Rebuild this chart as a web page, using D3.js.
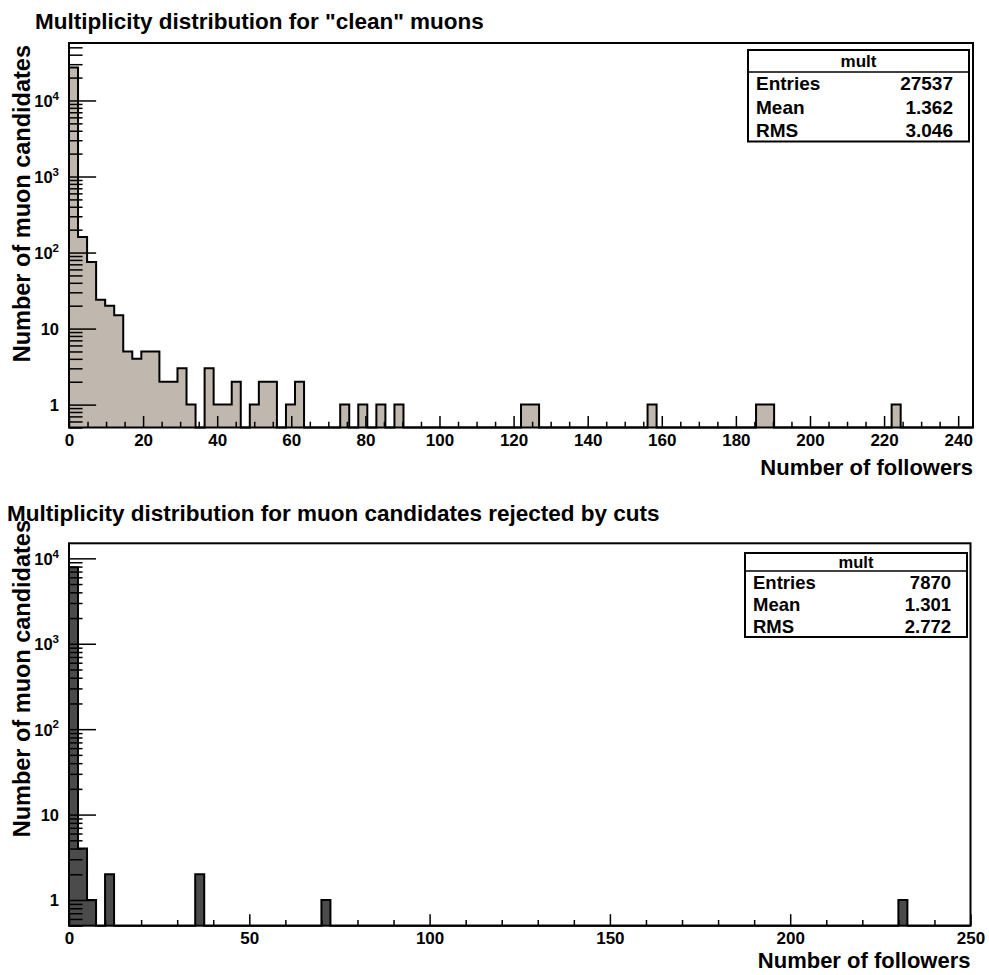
<!DOCTYPE html>
<html>
<head>
<meta charset="utf-8">
<script src="https://cdn.jsdelivr.net/npm/d3@7"></script>
<style>
  body { margin: 0; background: #fff; }
  svg { display: block; font-family: "Liberation Sans", Arial, Helvetica, sans-serif; font-weight: bold; }
</style>
</head>
<body>
<svg id="chart" width="989" height="975"></svg>
<script>
// bin contents (100 bins per histogram)
const cleanCounts = [
  27190, 160, 75, 24, 20, 15, 5, 4, 5, 5, 2, 2, 3, 1, 0, 3, 1, 1, 2, 0,
  1, 2, 2, 0, 1, 2, 0, 0, 0, 0, 1, 0, 1, 0, 1, 0, 1, 0, 0, 0,
  0, 0, 0, 0, 0, 0, 0, 0, 0, 0, 1, 1, 0, 0, 0, 0, 0, 0, 0, 0,
  0, 0, 0, 0, 1, 0, 0, 0, 0, 0, 0, 0, 0, 0, 0, 0, 1, 1, 0, 0,
  0, 0, 0, 0, 0, 0, 0, 0, 0, 0, 0, 1, 0, 0, 0, 0, 0, 0, 0, 0
];
const rejectedCounts = [
  7859, 4, 1, 0, 2, 0, 0, 0, 0, 0, 0, 0, 0, 0, 2, 0, 0, 0, 0, 0,
  0, 0, 0, 0, 0, 0, 0, 0, 1, 0, 0, 0, 0, 0, 0, 0, 0, 0, 0, 0,
  0, 0, 0, 0, 0, 0, 0, 0, 0, 0, 0, 0, 0, 0, 0, 0, 0, 0, 0, 0,
  0, 0, 0, 0, 0, 0, 0, 0, 0, 0, 0, 0, 0, 0, 0, 0, 0, 0, 0, 0,
  0, 0, 0, 0, 0, 0, 0, 0, 0, 0, 0, 0, 1, 0, 0, 0, 0, 0, 0, 0
];
const cleanRange = [0, 244];
const rejectedRange = [0, 250];

const cleanXTicks = [0, 20, 40, 60, 80, 100, 120, 140, 160, 180, 200, 220, 240];
const rejectedXTicks = [0, 50, 100, 150, 200, 250];
const yDecades = [1, 10, 100, 1000, 10000];

const cleanStats = [["Entries", "27537"], ["Mean", "1.362"], ["RMS", "3.046"]];
const rejectedStats = [["Entries", "7870"], ["Mean", "1.301"], ["RMS", "2.772"]];

const titles = ['Multiplicity distribution for "clean" muons',
  "Multiplicity distribution for muon candidates rejected by cuts"];
const xTitle = "Number of followers";
const yTitle = "Number of muon candidates";
const statsName = "mult";

const svg = d3.select("#chart");
svg.append("rect").attr("width", 989).attr("height", 975).attr("fill", "#fff");

const panels = [
  {
    counts: cleanCounts, range: cleanRange, ticks: cleanXTicks, minorStep: 5,
    stats: cleanStats, title: titles[0], fill: "#c0b8ae",
    frame: { left: 69, right: 973, top: 43, bottom: 427.5 },
    yDomain: [0.5, 57000],
    titlePos: [35, 29], yTitleEnd: 45, xTitleY: 475,
    box: { x0: 748, x1: 969, y0: 50, y1: 141.5, sep: 72 }, statSize: 19, headSize: 17
  },
  {
    counts: rejectedCounts, range: rejectedRange, ticks: rejectedXTicks, minorStep: 10,
    stats: rejectedStats, title: titles[1], fill: "#4b4b4b",
    frame: { left: 69, right: 970.5, top: 543.3, bottom: 925.7 },
    yDomain: [0.5, 15000],
    titlePos: [7, 521], yTitleEnd: 520, xTitleY: 968,
    box: { x0: 745, x1: 967, y0: 553, y1: 637, sep: 571 }, statSize: 18.5, headSize: 16.5
  }
];

panels.forEach((p) => drawPanel(p));

function drawPanel(p) {
  const f = p.frame;
  const x = d3.scaleLinear().domain(p.range).range([f.left, f.right]);
  const y = d3.scaleLog().domain(p.yDomain).range([f.bottom, f.top]);
  const g = svg.append("g");

  // histogram as a step outline, zero bins sit on the bottom edge
  const nb = p.counts.length;
  const bw = (p.range[1] - p.range[0]) / nb;
  const pts = [[x(p.range[0]), f.bottom]];
  p.counts.forEach((c, i) => {
    const yy = c > 0 ? y(c) : f.bottom;
    pts.push([x(p.range[0] + i * bw), yy]);
    pts.push([x(p.range[0] + (i + 1) * bw), yy]);
  });
  pts.push([x(p.range[1]), f.bottom]);
  const line = d3.line();
  g.append("path").attr("d", line(pts) + "Z").attr("fill", p.fill).attr("stroke", "none");
  g.append("path").attr("d", line(pts)).attr("fill", "none")
    .attr("stroke", "#000").attr("stroke-width", 2);

  // frame
  g.append("rect")
    .attr("x", f.left).attr("y", f.top)
    .attr("width", f.right - f.left).attr("height", f.bottom - f.top)
    .attr("fill", "none").attr("stroke", "#000").attr("stroke-width", 2);

  const h = f.bottom - f.top;
  const majX = 0.03 * h, minX = majX / 2;

  // x axis minor ticks
  const minorX = d3.range(p.range[0], p.range[1] + 0.001, p.minorStep)
    .filter((v) => !p.ticks.includes(v));
  g.append("g").attr("transform", `translate(0,${f.bottom})`)
    .call(d3.axisBottom(x).tickValues(minorX).tickSize(-minX).tickSizeOuter(0).tickFormat(""))
    .call((a) => a.select(".domain").remove())
    .call((a) => a.selectAll("line").attr("stroke-width", 1.5));
  // x axis major ticks + labels
  g.append("g").attr("transform", `translate(0,${f.bottom})`)
    .call(d3.axisBottom(x).tickValues(p.ticks).tickSize(-majX).tickSizeOuter(0).tickFormat(d3.format("d")))
    .call((a) => a.select(".domain").remove())
    .call((a) => a.selectAll("line").attr("stroke-width", 1.5))
    .call((a) => a.selectAll("text").attr("y", 18).attr("dy", null)
      .attr("font-size", 17).attr("fill", "#000"));

  // y axis (log) minor ticks
  const minorY = [];
  [0.1, 1, 10, 100, 1000, 10000].forEach((d) => {
    for (let k = 2; k <= 9; k++) {
      const v = k * d;
      if (v >= p.yDomain[0] && v <= p.yDomain[1]) minorY.push(v);
    }
  });
  g.append("g").attr("transform", `translate(${f.left},0)`)
    .call(d3.axisLeft(y).tickValues(minorY).tickSize(-0.015 * (f.right - f.left)).tickSizeOuter(0).tickFormat(""))
    .call((a) => a.select(".domain").remove())
    .call((a) => a.selectAll("line").attr("stroke-width", 1.5));
  const yAx = g.append("g").attr("transform", `translate(${f.left},0)`)
    .call(d3.axisLeft(y).tickValues(yDecades).tickSize(-0.03 * (f.right - f.left)).tickSizeOuter(0).tickFormat(""))
    .call((a) => a.select(".domain").remove())
    .call((a) => a.selectAll("line").attr("stroke-width", 1.5));

  // decade labels with superscripts
  yAx.selectAll(".tick").each(function (d) {
    const t = d3.select(this).append("text")
      .attr("x", -10).attr("dy", "0.36em")
      .attr("text-anchor", "end").attr("fill", "#000").attr("font-size", 16.5);
    const e = Math.round(Math.log10(d));
    if (e <= 1) {
      t.text(d);
    } else {
      t.append("tspan").text("10");
      t.append("tspan").attr("font-size", 11.5).attr("dy", "-0.62em").text(e);
    }
  });

  // titles
  svg.append("text").attr("x", p.titlePos[0]).attr("y", p.titlePos[1])
    .attr("font-size", 22.5).text(p.title);
  svg.append("text").attr("x", f.right).attr("y", p.xTitleY)
    .attr("text-anchor", "end").attr("font-size", 22).text(xTitle);
  svg.append("text")
    .attr("transform", `translate(30,${p.yTitleEnd}) rotate(-90)`)
    .attr("text-anchor", "end").attr("font-size", 23.5).text(yTitle);

  // stats box
  const b = p.box;
  const rowH = (b.y1 - b.sep) / p.stats.length;
  const sb = svg.append("g");
  sb.append("rect").attr("x", b.x0).attr("y", b.y0)
    .attr("width", b.x1 - b.x0).attr("height", b.y1 - b.y0)
    .attr("fill", "#fff").attr("stroke", "#000").attr("stroke-width", 2);
  sb.append("line").attr("x1", b.x0).attr("x2", b.x1)
    .attr("y1", b.sep).attr("y2", b.sep)
    .attr("stroke", "#000").attr("stroke-width", 1.5);
  sb.append("text").attr("x", (b.x0 + b.x1) / 2).attr("y", (b.y0 + b.sep) / 2)
    .attr("dy", "0.36em").attr("text-anchor", "middle")
    .attr("font-size", p.headSize).text(statsName);
  p.stats.forEach((s, i) => {
    const cy = b.sep + rowH * (i + 0.5);
    sb.append("text").attr("x", b.x0 + 8).attr("y", cy).attr("dy", "0.36em")
      .attr("font-size", p.statSize).text(s[0]);
    sb.append("text").attr("x", b.x1 - 16).attr("y", cy).attr("dy", "0.36em")
      .attr("text-anchor", "end").attr("font-size", p.statSize).text(s[1]);
  });
}
</script>
</body>
</html>
